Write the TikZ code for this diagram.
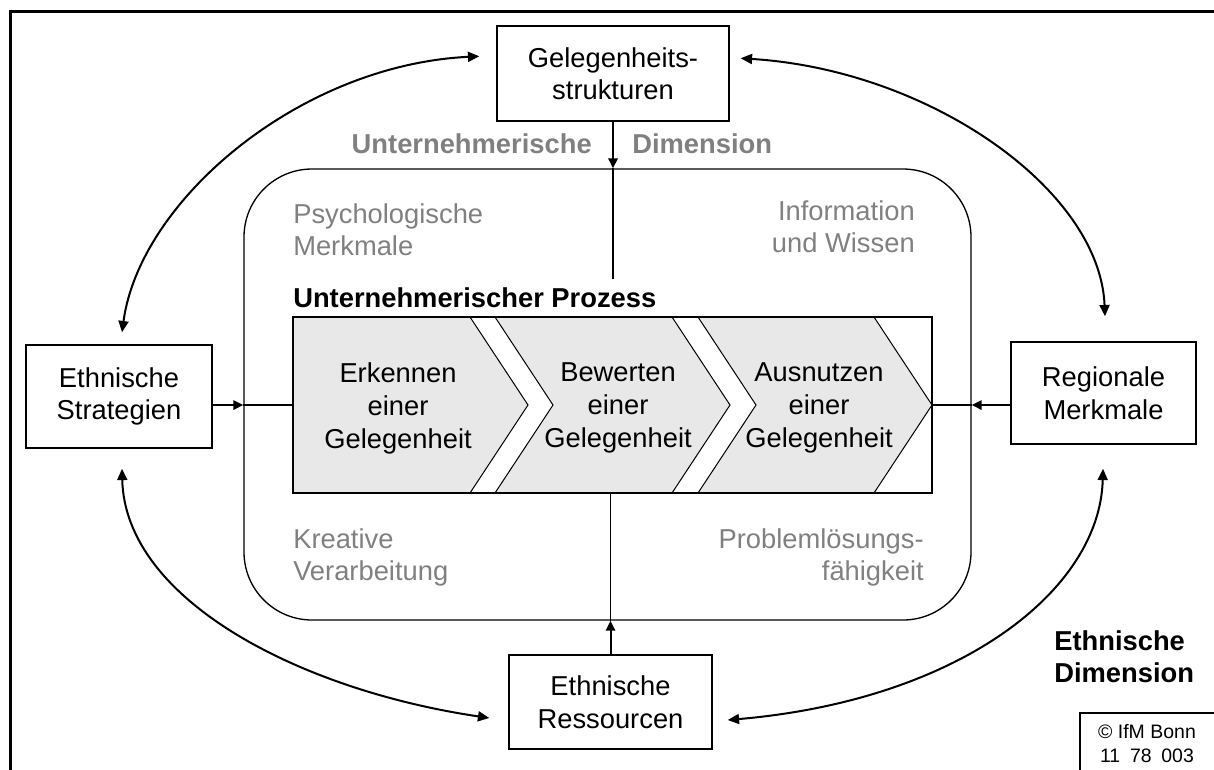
\documentclass[tikz,border=0pt]{standalone}
\usepackage{fontspec}
\setmainfont{Liberation Sans}
\usepackage{tikz}
\usetikzlibrary{arrows.meta,positioning,calc}
\definecolor{dimgrey}{HTML}{808080}
\definecolor{stepgrey}{HTML}{E8E8E8}
\tikzset
{
	factorbox/.style = {rectangle, draw=black, line width=1.1pt, align=center, font=\fontsize{20.5}{24.4}\selectfont},
	hull/.style      = {rectangle, draw=black, line width=1pt, rounded corners=51pt},
	procframe/.style = {rectangle, draw=black, line width=1.5pt},
	chevron/.style   = {draw=black, fill=stepgrey, line width=0.75pt, line join=miter},
	steptext/.style  = {align=center, inner sep=0pt, font=\fontsize{20.5}{24.75}\selectfont},
	traitlabel/.style = {inner sep=0pt, text=dimgrey, font=\fontsize{20.5}{24.4}\selectfont},
	dimlabel/.style  = {inner sep=0pt, font=\bfseries\fontsize{20.5}{24.4}\selectfont},
	flowarrow/.style = {line width=1.5pt, -{Triangle[length=7.5pt,width=7pt]}},
	linkcurve/.style = {line width=1.5pt, {Triangle[length=8.5pt,width=7.5pt]}-{Triangle[length=8.5pt,width=7.5pt]}},
	joinline/.style  = {line width=1pt}
}

\begin{document}
\begin{tikzpicture}[x=0.75pt, y=-0.75pt]
\useasboundingbox (0,0) rectangle (1214,769);
\clip (0,0) rectangle (1214,769);
\draw[line width=2.25pt] (10,800) -- (10,11) -- (1240,11);

\node[hull, minimum width=545.25pt, minimum height=338.25pt] (hull) at (607.5,394.5) {};

\filldraw[chevron] (293,317) -- (470,317) -- (528,405) -- (470,493) -- (293,493) -- cycle;
\filldraw[chevron] (495,317) -- (672,317) -- (730,405) -- (672,493) -- (495,493) -- (553,405) -- cycle;
\filldraw[chevron] (698,317) -- (874,317) -- (932,405) -- (874,493) -- (698,493) -- (756,405) -- cycle;
\node[procframe, minimum width=479.25pt, minimum height=132pt] (proc) at (612.5,405) {};

\node[steptext] (erkennen) at (398,408) {Erkennen\\einer\\Gelegenheit};
\node[steptext] (bewerten) at (618,408) {Bewerten\\einer\\Gelegenheit};
\node[steptext] (ausnutzen) at (819,408) {Ausnutzen\\einer\\Gelegenheit};
\node[dimlabel, anchor=base west] (prozess) at (293,307) {Unternehmerischer Prozess};

\node[traitlabel, anchor=north west, align=left] (psych) at (293,203) {Psychologische\\Merkmale};
\node[traitlabel, anchor=north east, align=right] (info) at (915,200) {Information\\und Wissen};
\node[traitlabel, anchor=north west, align=left] (kreativ) at (293,528) {Kreative\\Verarbeitung};
\node[traitlabel, anchor=north east, align=right] (problem) at (924,528) {Problemlösungs-\\fähigkeit};

\node[factorbox, minimum width=174pt, minimum height=71.25pt] (gel) at (613,73.5) {Gelegenheits-\\strukturen};
\node[factorbox, minimum width=139.5pt, minimum height=77.25pt] (strat) at (119,396.5) {Ethnische\\Strategien};
\node[factorbox, minimum width=138.75pt, minimum height=76.5pt] (regio) at (1103.5,393) {Regionale\\Merkmale};
\node[factorbox, minimum width=152.25pt, minimum height=70.5pt] (ress) at (610.5,702) {Ethnische\\Ressourcen};

\node[dimlabel, text=dimgrey, anchor=base east] (unterdim) at (592,153) {Unternehmerische};
\node[dimlabel, text=dimgrey, anchor=base west] (dimension) at (632,153) {Dimension};
\node[dimlabel, anchor=north west, align=left] (ethdim) at (1054,630) {Ethnische\\Dimension};

\draw[line width=0.8pt] (1080,800) -- (1080,713) -- (1240,713);
\node[anchor=north, align=center, inner sep=0pt, font=\fontsize{14.6}{18}\selectfont] (ifm) at (1147,724) {© IfM Bonn\\11\enspace 78\enspace 003};

\coordinate (topend) at (613,279);
\draw[flowarrow] (gel.south) -- (gel.south |- hull.north);
\draw[joinline] (gel.south |- hull.north) -- (topend);
\draw[flowarrow] (strat.east |- proc.west) -- (hull.west |- proc.west);
\draw[joinline] (hull.west |- proc.west) -- (proc.west);
\draw[flowarrow] (regio.west |- proc.east) -- (hull.east |- proc.east);
\draw[joinline] (hull.east |- proc.east) -- (proc.east);
\draw[flowarrow] (ress.north) -- (ress.north |- hull.south);
\draw[joinline] (ress.north |- hull.south) -- (ress.north |- proc.south);

\draw[linkcurve] ($(gel.north west)+(-17,31)$) .. controls (300,65) and (140,200) .. ($(strat.north)+(3,-12)$);
\draw[linkcurve] ($(gel.north east)+(11,33)$) .. controls (930,70) and (1100,190) .. ($(regio.north)+(1.5,-25)$);
\draw[linkcurve] ($(strat.south)+(3,20)$) .. controls (125,600) and (300,690) .. ($(ress.west)+(-19,16)$);
\draw[linkcurve] ($(regio.south)+(-0.5,24)$) .. controls (1100,590) and (960,700) .. ($(ress.east)+(15,18)$);
\end{tikzpicture}
\end{document}
